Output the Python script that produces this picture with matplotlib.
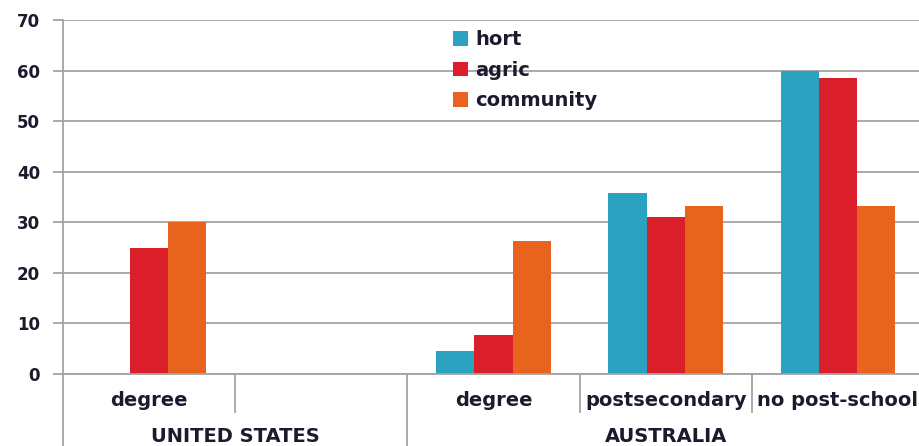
import numpy as np
import matplotlib
matplotlib.use("Agg")
import matplotlib.pyplot as plt
from matplotlib.transforms import blended_transform_factory

plt.rcParams['font.family'] = ['DejaVu Sans']

# Data
categories = ["degree", "", "degree", "postsecondary", "no post-school"]
groups = ["UNITED STATES", "AUSTRALIA"]
group_sizes = [2, 3]
series_names = ["hort", "agric", "community"]
hort = [np.nan, np.nan, 4.5, 35.8, 60.0]
agric = [25.0, np.nan, 7.8, 31.0, 58.6]
community = [30.0, np.nan, 26.3, 33.2, 33.2]
yticks = [0, 10, 20, 30, 40, 50, 60, 70]

colors = ["#2BA3C0", "#DA1F2A", "#E8641E"]
text_color = "#1b1b2e"
grid_color = "#a3a3a3"

W, H = 919, 446
fig = plt.figure(figsize=(W / 100, H / 100), dpi=100)
left_px, right_px, top_px, bottom_px = 63, 924, 20, 374
ax = fig.add_axes([left_px / W, (H - bottom_px) / H,
                   (right_px - left_px) / W, (bottom_px - top_px) / H])

n = len(categories)
x = np.arange(n) + 0.5
bw = 0.222
for i, (vals, name) in enumerate(zip([hort, agric, community], series_names)):
    ax.bar(x + (i - 1) * bw, vals, width=bw, color=colors[i], label=name,
           linewidth=0, zorder=3)

ax.set_xlim(0, n)
ax.set_ylim(0, 70)
ax.set_yticks(yticks)
ax.set_yticklabels([str(t) for t in yticks])
ax.set_xticks([])
ax.yaxis.grid(True, color=grid_color, linewidth=1.3, zorder=0)
ax.set_axisbelow(True)
for s in ax.spines.values():
    s.set_visible(False)
ax.tick_params(axis="y", direction="out", length=7.5, width=1.3,
               color=grid_color, pad=9, labelsize=12, labelcolor=text_color)
for lab in ax.get_yticklabels():
    lab.set_fontweight("bold")

# Bottom axis line and multi-level category dividers
trans = blended_transform_factory(ax.transData, ax.transAxes)
ax.plot([0, n], [0, 0], color=grid_color, lw=1.3, transform=trans,
        clip_on=False, zorder=4)
ax.plot([0, 0], [1, -0.21], color=grid_color, lw=1.3, transform=trans,
        clip_on=False, zorder=4)

short_y = -(412 - bottom_px) / (bottom_px - top_px)
long_y = -0.21
bounds = np.cumsum([0] + group_sizes)
for k in range(1, n):
    y_end = long_y if k in bounds else short_y
    ax.plot([k, k], [0, y_end], color=grid_color, lw=1.3, transform=trans,
            clip_on=False)

cat_y = -(400 - bottom_px) / (bottom_px - top_px)
for xi, c in zip(x, categories):
    ax.text(xi, cat_y, c, transform=trans, ha="center", va="center",
            fontsize=14, fontweight="bold", color=text_color, clip_on=False)

grp_y = -(436 - bottom_px) / (bottom_px - top_px)
for g, a, b in zip(groups, bounds[:-1], bounds[1:]):
    ax.text((a + b) / 2, grp_y, g, transform=trans, ha="center", va="center",
            fontsize=14, fontweight="bold", color=text_color, clip_on=False)

leg = ax.legend(loc="upper left",
                bbox_to_anchor=((453 - left_px) / (right_px - left_px),
                                (bottom_px - 30) / (bottom_px - top_px)),
                frameon=False, fontsize=14, handlelength=0.78, handleheight=0.78,
                handletextpad=0.35, labelspacing=0.6, borderpad=0,
                borderaxespad=0)
for t in leg.get_texts():
    t.set_fontweight("bold")
    t.set_color(text_color)

fig.savefig("out.png", dpi=100)
